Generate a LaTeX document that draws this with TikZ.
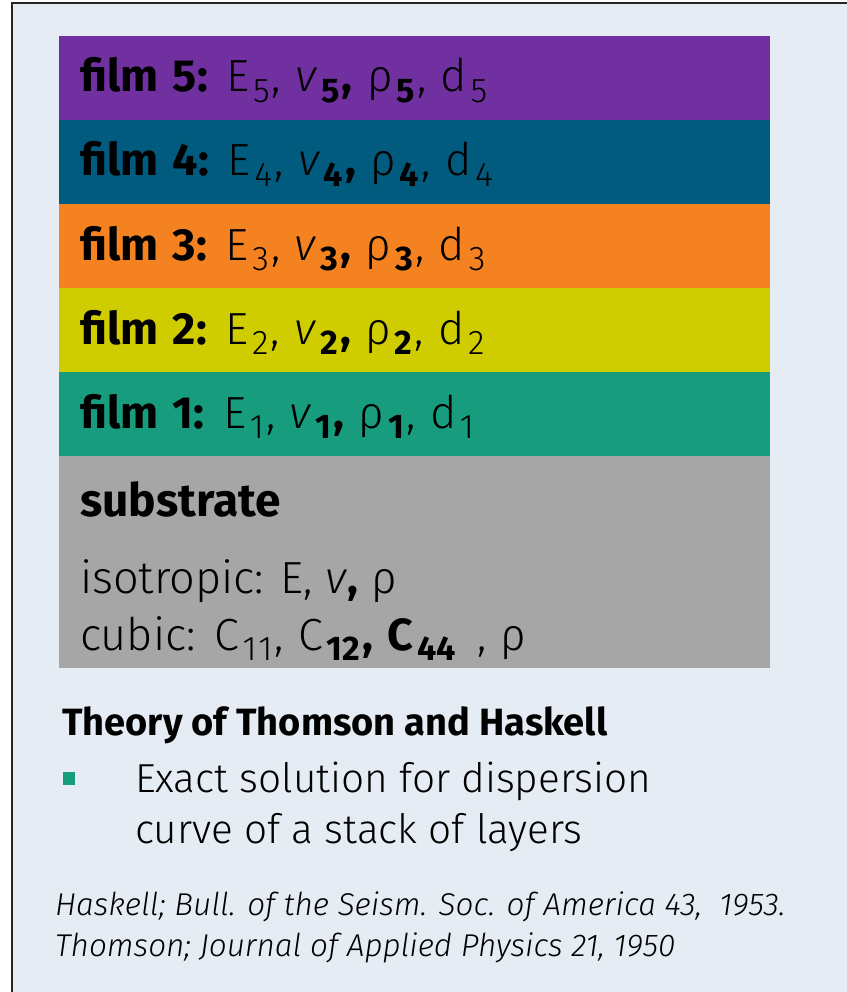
\documentclass[tikz,border=0pt]{standalone}
\usepackage{fontspec}
\setmainfont{Fira Sans Light}[BoldFont={Fira Sans Bold}, ItalicFont={Fira Sans Light Italic}, BoldItalicFont={Fira Sans Bold Italic}]
\definecolor{bgc}{HTML}{E5ECF3}
\definecolor{cfive}{HTML}{7030A0}
\definecolor{cfour}{HTML}{005B7F}
\definecolor{cthree}{HTML}{F58220}
\definecolor{ctwo}{HTML}{CFCD00}
\definecolor{cone}{HTML}{179C7D}
\definecolor{csub}{HTML}{A6A6A6}
\newcommand{\dn}[1]{\kern0.08em\raisebox{-0.24em}{\scalebox{0.76}{#1}}\kern0.05em}
\newcommand{\widesp}{\spaceskip 0.32em\relax}
\tikzset{
  layer/.style={rectangle, draw=none, minimum width=711pt, inner sep=0pt, anchor=north west},
  lbl/.style={anchor=base west, inner sep=0pt, font=\fontsize{45}{50}\selectfont},
  sml/.style={anchor=base west, inner sep=0pt}
}
\begin{document}
\begin{tikzpicture}[x=1pt,y=-1pt]
\useasboundingbox (0,0) rectangle (846,992);
\fill[bgc] (12,3) rectangle (900,1100);
\draw[line width=2.5pt, black!85] (12,3) rectangle (900,1100);
\node[layer, fill=cfive, minimum height=84pt] (f5) at (59,36) {};
\node[layer, fill=cfour, minimum height=84pt] (f4) at (59,120) {};
\node[layer, fill=cthree, minimum height=84pt] (f3) at (59,204) {};
\node[layer, fill=ctwo, minimum height=84pt] (f2) at (59,288) {};
\node[layer, fill=cone, minimum height=84pt] (f1) at (59,372) {};
\node[layer, fill=csub, minimum height=212pt] (sub) at (59,456) {};
\node[lbl] (t5) at (80,92) {\widesp\textbf{film 5:} E\dn{5}, \textit{v}\dn{\textbf{5}}\textbf{,} ρ\dn{\textbf{5}}, d\dn{5}};
\node[lbl] (t4) at (80,176) {\widesp\textbf{film 4}\textbf{:} E\dn{4}, \textit{v}\dn{\textbf{4}}\textbf{,} ρ\dn{\textbf{4}}, d\dn{4}};
\node[lbl] (t3) at (80,260) {\widesp\textbf{film 3:} E\dn{3}, \textit{v}\dn{\textbf{3}}\textbf{,} ρ\dn{\textbf{3}}, d\dn{3}};
\node[lbl] (t2) at (80,344) {\widesp\textbf{film 2:} E\dn{2}, \textit{v}\dn{\textbf{2}}\textbf{,} ρ\dn{\textbf{2}}, d\dn{2}};
\node[lbl] (t1) at (80,428) {\widesp\textbf{film 1:} E\dn{1}, \textit{v}\dn{\textbf{1}}\textbf{,} ρ\dn{\textbf{1}}, d\dn{1}};
\node[sml, font=\fontsize{46}{50}\selectfont] (ts) at (80,516) {\textbf{substrate}};
\node[sml, font=\fontsize{45}{50}\selectfont] (iso) at (80,593) {isotropic: E, \textit{v}\textbf{,} ρ};
\node[lbl] (cub) at (80,650) {\widesp cubic: C\dn{1\kern0.05em1}, C\dn{\textbf{12}}\textbf{,} \textbf{C\dn{44}}\kern0.1em{} , ρ};
\node[sml, font=\bfseries\fontsize{38}{40}\selectfont] (th) at (62,735) {Theory of Thomson and Haskell};
\fill[cone] (63,772) rectangle (75,785);
\node[sml, font=\fontsize{40.5}{51}\selectfont] (ex1) at (135,792) {Exact solution for dispersion};
\node[sml, font=\fontsize{40.5}{51}\selectfont] (ex2) at (135,843) {curve of a stack of layers};
\node[sml, font=\itshape\fontsize{31.5}{41}\selectfont] (r1) at (55,915) {Haskell; Bull. of the Seism. Soc. of America 43,~ 1953.};
\node[sml, font=\itshape\fontsize{31.5}{41}\selectfont] (r2) at (55,956) {Thomson; Journal of Applied Physics 21, 1950};
\end{tikzpicture}
\end{document}
